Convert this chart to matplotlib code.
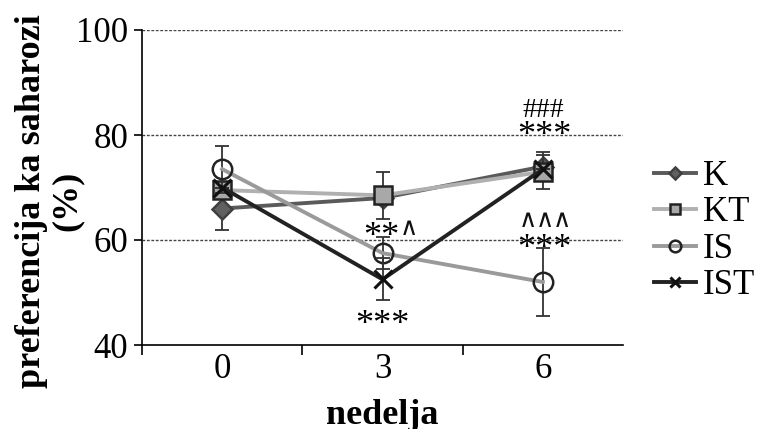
import matplotlib
matplotlib.use("Agg")
import matplotlib.pyplot as plt
import numpy as np

weeks = ["0", "3", "6"]
K = [66, 68, 74]
KT = [69.5, 68.5, 73]
IS = [73.5, 57.5, 52]
IST = [70, 52.5, 73.5]
K_err = [4, 0, 2.8]
KT_err = [0, 4.5, 3.2]
IS_err = [4.5, 3, 6.5]
IST_err = [0, 4, 0]
yticks = [40, 60, 80, 100]

plt.rcParams['font.family'] = ['Liberation Serif', 'DejaVu Sans']

fig = plt.figure(figsize=(7.57, 4.29), dpi=100)
ax = fig.add_axes([142/757, 1-345/429, (623-142)/757, (345-30)/429])
x = np.arange(len(weeks))

for v in [60, 80, 100]:
    ax.axhline(v, color='#444444', ls=(0, (2, 1.2)), lw=1.0, zorder=1)

series = [
    ("K", K, K_err, '#5a5a5a', dict(marker='D', ms=10, mfc='#606060', mec='#404040')),
    ("KT", KT, KT_err, '#b0b0b0', dict(marker='s', ms=13, mfc='#a8a8a8', mec='#222222')),
    ("IS", IS, IS_err, '#9a9a9a', dict(marker='o', ms=14, mfc='none', mec='#222222')),
    ("IST", IST, IST_err, '#222222', dict(marker='x', ms=13, mec='#111111', mew=2.2)),
]
handles = []
for i, (name, y, e, c, mk) in enumerate(series):
    ax.errorbar(x, y, yerr=e, fmt='none', ecolor='#333333', elinewidth=1.3, capsize=5, capthick=1.3, zorder=2+i)
    mew = mk.pop('mew', 1.8)
    h, = ax.plot(x, y, color=c, lw=2.8, mew=mew, zorder=3+i, label=name, **mk)
    handles.append(h)

ax.set_xlim(-0.5, 2.5)
ax.set_ylim(40, 100)
ax.set_yticks(yticks)
ax.set_yticklabels([str(v) for v in yticks], fontsize=25)
ax.set_xticks(x)
ax.set_xticklabels(weeks, fontsize=25)
ax.tick_params(axis='x', length=0, pad=6)
ax.set_xticks([-0.5, 0.5, 1.5], minor=True)
ax.tick_params(axis='x', which='minor', length=7, width=1.2, direction='out')
ax.tick_params(axis='y', length=6, width=1.2, direction='out', pad=4)
for s in ['top', 'right']:
    ax.spines[s].set_visible(False)
for s in ['left', 'bottom']:
    ax.spines[s].set_linewidth(1.2)

ax.set_xlabel("nedelja", fontsize=26, fontweight='bold', labelpad=9)
ax.set_ylabel("preferencija ka saharozi\n(%)", fontsize=26, fontweight='bold', linespacing=1.1)
ax.yaxis.set_label_coords(-0.121, 0.456)

af = 26
ax.text(1.0, 42.1, "***", ha='center', va='baseline', fontsize=af)
ax.text(0.995, 58.86, "**", ha='center', va='baseline', fontsize=af)
ax.text(2.0, 83.43, "###", ha='center', va='baseline', fontsize=20)
ax.text(2.01, 78.1, "***", ha='center', va='baseline', fontsize=af)
ax.text(2.01, 56.6, "***", ha='center', va='baseline', fontsize=af)
caret_style = dict(ha='center', va='baseline', fontsize=18, family=['DejaVu Sans'], color='#111111')
ax.text(1.162, 60.95, "∧", **caret_style)
for cx in [1.9075, 2.0135, 2.1196]:
    ax.text(cx, 62.5, "∧", **caret_style)

fig.legend(handles=handles, loc='upper left', bbox_to_anchor=(640/757, 1-146/429), frameon=False,
           fontsize=25, handlelength=1.2, handletextpad=0.2, labelspacing=0.1, borderaxespad=0,
           markerscale=0.6)

fig.savefig("out.png", dpi=100)
